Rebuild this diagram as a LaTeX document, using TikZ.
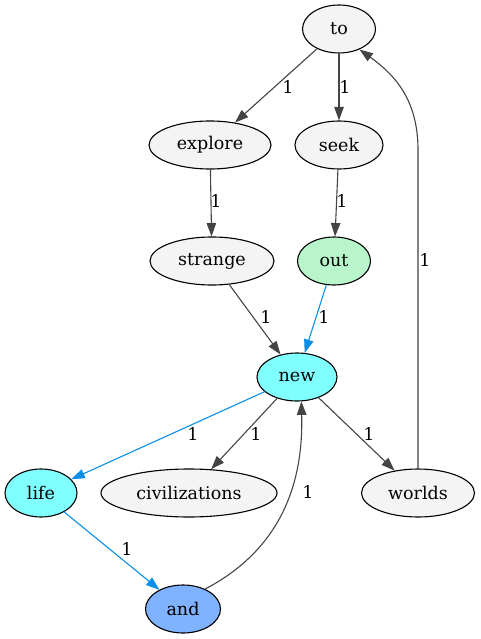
\documentclass[tikz,border=0pt]{standalone}
\usepackage{fontspec}
\setmainfont{DejaVu Serif}
\usetikzlibrary{shapes.geometric,arrows.meta}
\definecolor{gfill}{HTML}{F4F4F4}
\definecolor{cyanfill}{HTML}{80FFFF}
\definecolor{greenfill}{HTML}{B8F5CB}
\definecolor{bluefill}{HTML}{80B3FF}
\definecolor{edgegray}{HTML}{444444}
\definecolor{edgeblue}{HTML}{0A8FE8}
\tikzset{
  wnode/.style={ellipse, draw=black, line width=1.1pt, minimum height=48pt, inner sep=0pt, font=\fontsize{17.5}{20}\selectfont, fill=gfill},
  elabel/.style={font=\fontsize{17.5}{20}\selectfont, inner sep=0pt},
  gedge/.style={draw=edgegray, line width=1.1pt, -{Triangle[length=13.5pt,width=9.5pt]}},
  bedge/.style={draw=edgeblue, line width=1.1pt, -{Triangle[length=13.5pt,width=9.5pt]}},
}
\begin{document}
\begin{tikzpicture}[x=1pt,y=-1pt]
\useasboundingbox (0,0) rectangle (480,639);
\node[wnode, minimum width=73pt] (to) at (339,29) {to};
\node[wnode, minimum width=122pt] (explore) at (210,145) {explore};
\node[wnode, minimum width=88pt] (seek) at (339,145) {seek};
\node[wnode, minimum width=124pt] (strange) at (212,261) {strange};
\node[wnode, minimum width=73pt, fill=greenfill] (out) at (334,261) {out};
\node[wnode, minimum width=80pt, fill=cyanfill] (new) at (297,377) {new};
\node[wnode, minimum width=72pt, fill=cyanfill] (life) at (41,493) {life};
\node[wnode, minimum width=176pt] (civ) at (189,493) {civilizations};
\node[wnode, minimum width=113pt] (worlds) at (418,493) {worlds};
\node[wnode, minimum width=75pt, fill=bluefill] (and) at (183,609) {and};

\draw[gedge] (to) -- (explore);
\draw[gedge] (to) -- (seek);
\draw[gedge] (explore) -- (strange);
\draw[gedge] (seek) -- (out);
\draw[gedge] (strange) -- (new);
\draw[bedge] (out) -- (new);
\draw[bedge] (new) -- (life);
\draw[gedge] (new) -- (civ);
\draw[gedge] (new) -- (worlds);
\draw[bedge] (life) -- (and);
\draw[gedge] (and.42) .. controls (268,556) and (304,500) .. (new.-80);
\draw[gedge] (worlds.north) -- (418,150) .. controls (418,100) and (395,75) .. (to.-45);

\node[elabel] (l1) at (288,87) {1};
\node[elabel] (l2) at (345,87) {1};
\node[elabel] (l3) at (216,201) {1};
\node[elabel] (l4) at (342,201) {1};
\node[elabel] (l5) at (266,317) {1};
\node[elabel] (l6) at (324,317) {1};
\node[elabel] (l7) at (193,434) {1};
\node[elabel] (l8) at (256,434) {1};
\node[elabel] (l9) at (369,434) {1};
\node[elabel] (l10) at (308,492) {1};
\node[elabel] (l11) at (127,549) {1};
\node[elabel] (l12) at (425,260) {1};
\end{tikzpicture}
\end{document}
